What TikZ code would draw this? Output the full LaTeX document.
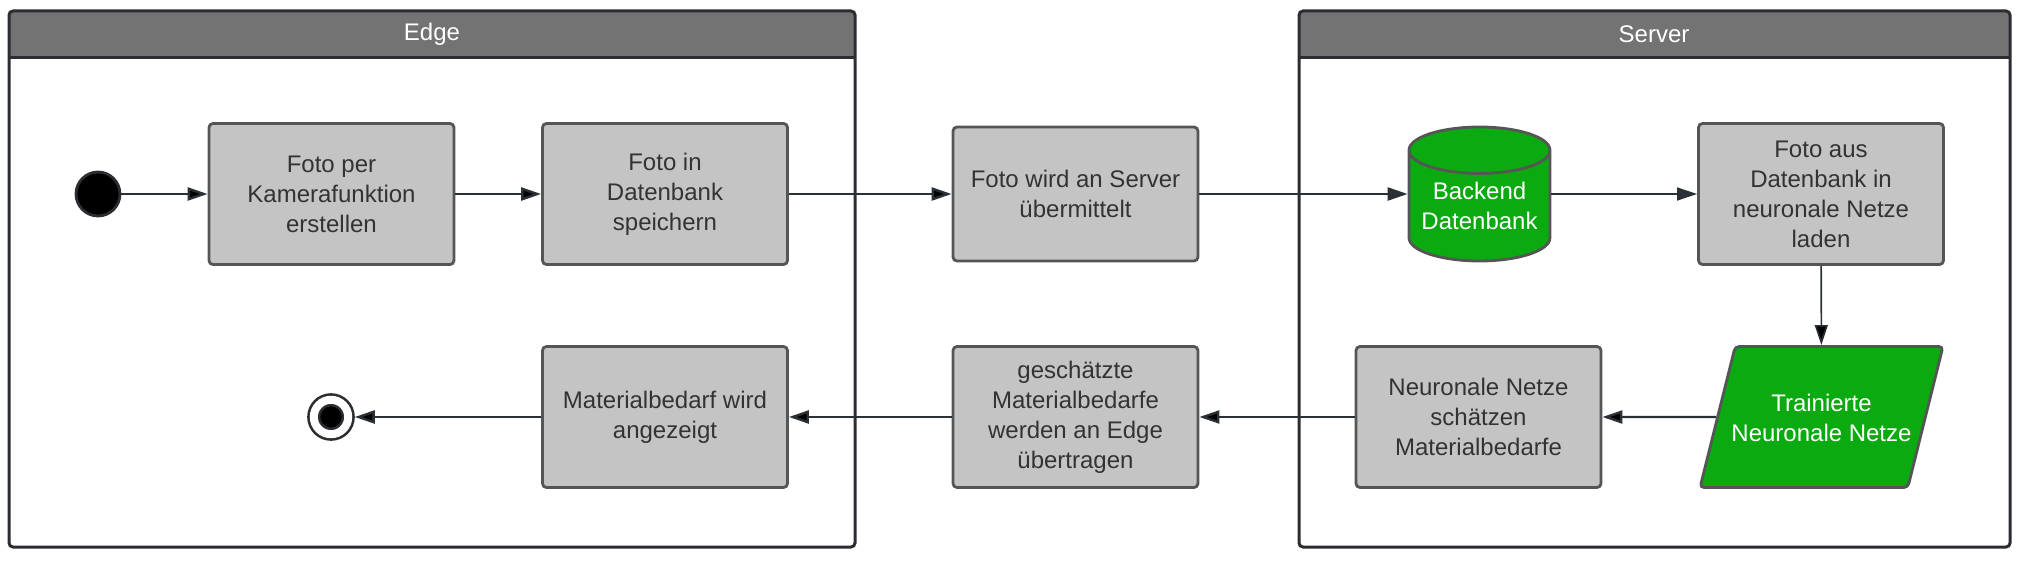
\documentclass[tikz,border=0pt]{standalone}
\usepackage{fontspec}
\setmainfont{Liberation Sans}
\usetikzlibrary{shapes.geometric,arrows.meta}
\definecolor{lanegray}{HTML}{737373}
\definecolor{laneline}{HTML}{2B2D31}
\definecolor{boxgray}{HTML}{C4C4C4}
\definecolor{boxline}{HTML}{555555}
\definecolor{textgray}{HTML}{333333}
\definecolor{dbgreen}{HTML}{0AAA10}
\definecolor{arrowdark}{HTML}{2B2F36}
\begin{document}
\begin{tikzpicture}[x=0.5pt,y=-0.5pt,font=\fontsize{12}{15}\selectfont,
           lane_style/.style={draw=laneline,line width=1.5pt,rounded corners=2pt},
           title_style/.style={text=white},
           box_style/.style={rectangle,rounded corners=2pt,draw=boxline,fill=boxgray,line width=1.4pt,text=textgray,align=center,minimum width=122.5pt,minimum height=70.5pt,inner sep=0pt},
           db_style/.style={cylinder,shape border rotate=90,aspect=0.4,draw=boxline,fill=dbgreen,line width=1.4pt,text=white,align=center,minimum width=70.5pt,minimum height=67pt,inner sep=0pt,anchor=shape center},
           data_style/.style={trapezium,trapezium left angle=76,trapezium right angle=104,draw=boxline,fill=dbgreen,line width=1.4pt,text=white,align=center,text height=24pt,text depth=0pt,inner xsep=-1.87pt,inner ysep=23.25pt,rounded corners=2pt},
           start_style/.style={circle,draw=laneline,fill=black,line width=1.4pt,minimum size=22pt,inner sep=0pt},
           end_style/.style={circle,draw=laneline,fill=black,line width=1.3pt,double=white,double distance=4pt,minimum size=17.2pt,inner sep=0pt,outer sep=3.3pt},
           edge_style/.style={draw=arrowdark,line width=1.2pt,-{Triangle[length=10pt,width=6.5pt]}}]
            \useasboundingbox (0,0) rectangle (2035,567);
            % lanes
            \fill[lanegray,rounded corners=2pt] (9,11) rectangle (855,70);
            \fill[white] (9,58) rectangle (855,547);
            \draw[lane_style] (9,11) rectangle (855,547);
            \draw[lane_style] (9,58) -- (855,58);
            \node[title_style] (edge_title) at (432,34) {Edge};
            \fill[lanegray,rounded corners=2pt] (1299,11) rectangle (2010,70);
            \fill[white] (1299,58) rectangle (2010,547);
            \draw[lane_style] (1299,11) rectangle (2010,547);
            \draw[lane_style] (1299,58) -- (2010,58);
            \node[title_style] (server_title) at (1654,34) {Server};
            % nodes
            \node[start_style] (start) at (98, 194) {};
            \node[box_style] (take) at (331.5, 194) {Foto per\\Kamerafunktion\\erstellen};
            \node[box_style] (save) at (665, 194) {Foto in\\Datenbank\\speichern};
            \node[box_style,minimum height=67pt] (send) at (1075.5, 194) {Foto wird an Server\\übermittelt};
            \node[db_style] (backend) at (1479.5, 194) {Backend\\Datenbank};
            \node[box_style] (load) at (1821, 194) {Foto aus\\Datenbank in\\neuronale Netze\\laden};
            \node[data_style] (trained) at (1821.5, 417) {Trainierte\\Neuronale Netze};
            \node[box_style] (estimate) at (1478.5, 417) {Neuronale Netze\\schätzen\\Materialbedarfe};
            \node[box_style] (transfer) at (1075.5, 417) {geschätzte\\Materialbedarfe\\werden an Edge\\übertragen};
            \node[box_style] (show) at (665, 417) {Materialbedarf wird\\angezeigt};
            \node[end_style] (stop) at (331, 417) {};
            % connectors
            \draw[edge_style]  (start) edge (take);
            \draw[edge_style]  (take) edge (save);
            \draw[edge_style]  (save) edge (send);
            \draw[edge_style]  (send.east) -- (send.east -| backend.west);
            \draw[edge_style,line width=0.8pt]  (load.west -| backend.east) -- (load.west);
            \draw[edge_style,line width=0.8pt]  (load) edge (trained);
            \draw[edge_style]  (trained) edge (estimate);
            \draw[edge_style]  (estimate) edge (transfer);
            \draw[edge_style]  (transfer) edge (show);
            \draw[edge_style]  (show) edge (stop);
        \end{tikzpicture}
\end{document}
